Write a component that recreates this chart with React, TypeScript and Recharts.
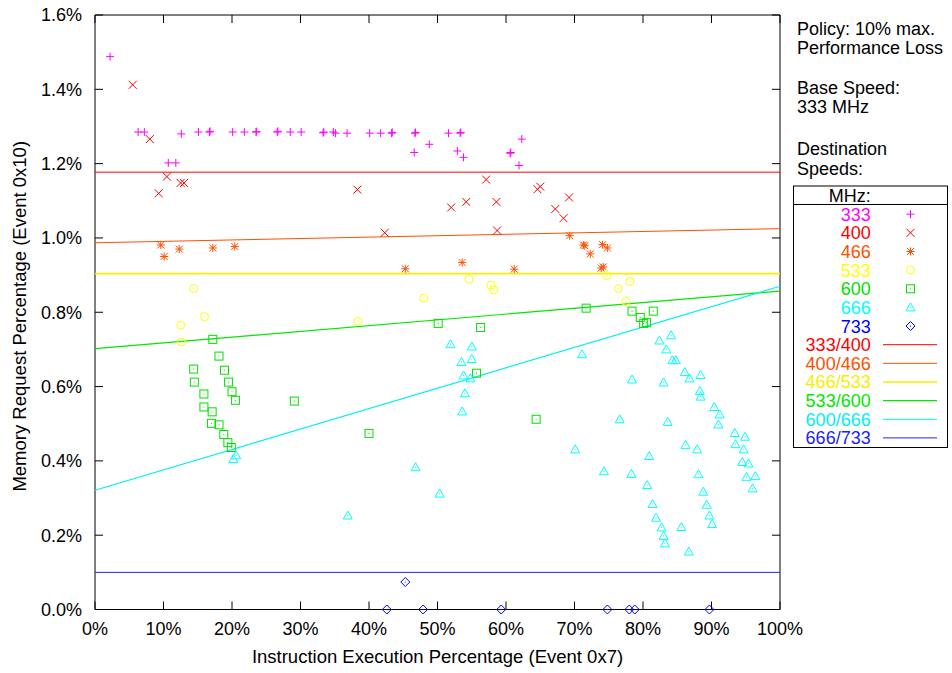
import React from 'react';
import { ScatterChart, Scatter, XAxis, YAxis, Customized } from 'recharts';

const FONT = '"Liberation Sans", Arial, Helvetica, sans-serif';

// ---- data (x = instruction execution %, y = memory request %) ----
const speeds333: number[][] = [
  [2.2, 1.488], [6.3, 1.285], [7.2, 1.285], [10.7, 1.202], [11.8, 1.202], [12.6, 1.28],
  [15.1, 1.285], [16.7, 1.285], [16.8, 1.287], [20.1, 1.285], [21.8, 1.285], [23.5, 1.285],
  [23.6, 1.286], [26.6, 1.285], [26.7, 1.287], [28.5, 1.285], [30.1, 1.285], [33.3, 1.283],
  [33.4, 1.285], [34.8, 1.285], [35.1, 1.282], [36.8, 1.282], [40.1, 1.282], [41.7, 1.282],
  [43.3, 1.282], [43.4, 1.284], [46.7, 1.282], [46.8, 1.284], [51.6, 1.282], [53.3, 1.282],
  [53.4, 1.284], [46.6, 1.23], [48.8, 1.252], [52.9, 1.234], [53.8, 1.217], [60.6, 1.228],
  [60.7, 1.23], [62.3, 1.266], [61.9, 1.195],
];
const speeds400: number[][] = [
  [5.5, 1.412], [8.0, 1.266], [9.3, 1.12], [10.5, 1.165], [12.5, 1.148], [13.0, 1.148],
  [38.3, 1.13], [42.3, 1.014], [52.0, 1.082], [54.2, 1.097], [57.1, 1.157], [58.6, 1.097],
  [58.7, 1.02], [64.6, 1.131], [65.0, 1.138], [67.2, 1.078], [68.4, 1.053], [69.2, 1.109],
];
const speeds466: number[][] = [
  [9.6, 0.981], [10.1, 0.95], [12.3, 0.97], [17.2, 0.973], [20.4, 0.977], [45.3, 0.917],
  [53.6, 0.934], [61.2, 0.916], [69.3, 1.006], [71.3, 0.981], [71.5, 0.979], [72.3, 0.957],
  [74.1, 0.982], [74.8, 0.973], [73.9, 0.919], [74.2, 0.922],
];
const speeds533: number[][] = [
  [12.5, 0.765], [12.6, 0.72], [14.4, 0.864], [16.0, 0.788], [38.4, 0.776], [48.0, 0.838],
  [54.6, 0.889], [57.8, 0.873], [58.2, 0.86], [74.7, 0.899], [76.4, 0.864], [77.5, 0.829],
  [78.1, 0.883],
];
const speeds600: number[][] = [
  [14.4, 0.647], [14.5, 0.612], [15.9, 0.58], [15.9, 0.545], [17.0, 0.501], [17.1, 0.532],
  [17.2, 0.727], [18.1, 0.682], [18.1, 0.497], [18.8, 0.471], [18.9, 0.644], [19.4, 0.449],
  [19.5, 0.612], [19.9, 0.436], [20.0, 0.586], [20.5, 0.563], [29.1, 0.561], [40.0, 0.474],
  [50.1, 0.77], [55.7, 0.636], [56.3, 0.759], [64.4, 0.512], [71.7, 0.811], [78.4, 0.803],
  [79.6, 0.786], [80.1, 0.77], [80.5, 0.772], [81.5, 0.803],
];
const speeds666: number[][] = [
  [20.2, 0.405], [20.6, 0.415], [36.9, 0.253], [46.8, 0.383], [50.3, 0.312], [51.9, 0.714],
  [53.5, 0.666], [53.6, 0.533], [53.8, 0.63], [54.0, 0.582], [54.8, 0.622], [55.0, 0.708],
  [55.0, 0.674], [70.1, 0.431], [71.1, 0.687], [74.3, 0.372], [76.6, 0.512], [78.3, 0.365],
  [78.4, 0.619], [80.6, 0.335], [80.9, 0.413], [81.4, 0.284], [81.9, 0.247], [82.4, 0.724],
  [82.7, 0.221], [83.0, 0.198], [83.0, 0.611], [83.2, 0.178], [83.4, 0.7], [83.6, 0.505],
  [84.1, 0.738], [84.3, 0.671], [84.8, 0.671], [85.6, 0.222], [86.1, 0.639], [86.2, 0.443],
  [86.8, 0.622], [86.7, 0.156], [87.9, 0.431], [88.1, 0.364], [88.3, 0.588], [88.4, 0.573],
  [88.4, 0.631], [88.8, 0.317], [89.3, 0.282], [89.7, 0.253], [90.1, 0.23], [90.4, 0.545],
  [91.0, 0.498], [91.2, 0.525], [93.4, 0.475], [93.5, 0.445], [94.5, 0.397], [94.7, 0.431],
  [94.9, 0.465], [95.1, 0.357], [95.4, 0.393], [96.0, 0.326], [96.4, 0.359],
];
const speeds733: number[][] = [
  [42.6, 0], [45.3, 0.074], [47.9, 0], [59.3, 0], [74.8, 0], [78.0, 0], [78.8, 0], [89.7, 0],
];

// boundary lines: [y at 0%, y at 100%]
const line333_400 = [1.177, 1.177];
const line400_466 = [0.987, 1.025];
const line466_533 = [0.904, 0.904];
const line533_600 = [0.702, 0.857];
const line600_666 = [0.321, 0.87];
const line666_733 = [0.1, 0.1];

const xTicks = [0, 10, 20, 30, 40, 50, 60, 70, 80, 90, 100];
const yTicks = [0, 0.2, 0.4, 0.6, 0.8, 1.0, 1.2, 1.4, 1.6];

const pointSeries = [
  { name: '333', kind: 'plus', color: '#ff00ff', data: speeds333 },
  { name: '400', kind: 'cross', color: '#ff0000', data: speeds400 },
  { name: '466', kind: 'star', color: '#ff5000', data: speeds466 },
  { name: '533', kind: 'circle', color: '#ffff00', data: speeds533 },
  { name: '600', kind: 'square', color: '#00e000', data: speeds600 },
  { name: '666', kind: 'triangle', color: '#00ffff', data: speeds666 },
  { name: '733', kind: 'diamond', color: '#0000ff', data: speeds733 },
];
const lineSeries = [
  { name: '333/400', color: '#ff0000', width: 1, ends: line333_400 },
  { name: '400/466', color: '#ff5000', width: 1, ends: line400_466 },
  { name: '466/533', color: '#f4f000', width: 1.6, ends: line466_533 },
  { name: '533/600', color: '#00e800', width: 1.2, ends: line533_600 },
  { name: '600/666', color: '#00f0f0', width: 1.2, ends: line600_666 },
  { name: '666/733', color: '#2020ff', width: 1, ends: line666_733 },
];
const noteLines = ['Policy: 10% max.', 'Performance Loss', '', 'Base Speed:', '333 MHz', '', 'Destination', 'Speeds:'];

const toXY = (arr: number[][]) => arr.map(([x, y]) => ({ x, y }));
const lineXY = (ends: number[]) => [{ x: 0, y: ends[0] }, { x: 100, y: ends[1] }];

function Marker({ kind, color, cx, cy }: { kind: string; color: string; cx: number; cy: number }) {
  const s = { stroke: color, strokeWidth: 1, fill: 'none' };
  const dot = <circle cx={cx} cy={cy} r={0.6} fill={color} />;
  switch (kind) {
    case 'plus':
      return (<g {...s}><line x1={cx - 4} x2={cx + 4} y1={cy} y2={cy} /><line x1={cx} x2={cx} y1={cy - 4} y2={cy + 4} /></g>);
    case 'cross':
      return (<g {...s}><line x1={cx - 4} x2={cx + 4} y1={cy - 4} y2={cy + 4} /><line x1={cx - 4} x2={cx + 4} y1={cy + 4} y2={cy - 4} /></g>);
    case 'star':
      return (<g {...s}>
        <line x1={cx - 4} x2={cx + 4} y1={cy} y2={cy} /><line x1={cx} x2={cx} y1={cy - 4} y2={cy + 4} />
        <line x1={cx - 3.5} x2={cx + 3.5} y1={cy - 3.5} y2={cy + 3.5} /><line x1={cx - 3.5} x2={cx + 3.5} y1={cy + 3.5} y2={cy - 3.5} />
      </g>);
    case 'circle':
      return (<g><circle cx={cx} cy={cy} r={4} {...s} />{dot}</g>);
    case 'square':
      return (<g><rect x={cx - 4} y={cy - 4} width={8} height={8} {...s} />{dot}</g>);
    case 'triangle':
      return (<g><polygon points={`${cx},${cy - 4.5} ${cx + 4.5},${cy + 3.5} ${cx - 4.5},${cy + 3.5}`} {...s} />{dot}</g>);
    case 'diamond':
      return (<g><polygon points={`${cx},${cy - 4.5} ${cx + 4.5},${cy} ${cx},${cy + 4.5} ${cx - 4.5},${cy}`} {...s} />{dot}</g>);
    default:
      return <g />;
  }
}

const makeShape = (kind: string, color: string) => (p: any) => {
  if (p == null || p.cx == null || p.cy == null) return <g />;
  return <Marker kind={kind} color={color} cx={p.cx} cy={p.cy} />;
};
const emptyShape = () => <g />;

function LegendLayer() {
  const left = 793.5, right = 947.5, top = 186, bottom = 447.5;
  const textRight = 870.7;
  const rowBase = 220.7, rowStep = 18.64;
  const rows = [
    ...pointSeries.map((s) => ({ name: s.name, color: s.color, kind: s.kind, isLine: false, width: 1 })),
    ...lineSeries.map((s) => ({ name: s.name, color: s.color, kind: '', isLine: true, width: s.width })),
  ];
  const noteBase = [35, 54.3, 0, 94, 113.3, 0, 155, 174.5];
  return (
    <g fontFamily={FONT} fontSize={18}>
      {noteLines.map((t, i) => (t ? <text key={'n' + i} x={797} y={noteBase[i]} fill="#000">{t}</text> : null))}
      <rect x={left} y={top} width={right - left} height={bottom - top} fill="#fff" stroke="#000" strokeWidth={1} />
      <line x1={left} x2={right} y1={204.5} y2={204.5} stroke="#000" strokeWidth={1} />
      <text x={textRight} y={202} textAnchor="end" fill="#000">MHz:</text>
      {rows.map((r, i) => {
        const base = rowBase + i * rowStep;
        const cy = base - 6.5;
        return (
          <g key={r.name}>
            <text x={textRight} y={base} textAnchor="end" fill={r.color}>{r.name}</text>
            {r.isLine
              ? <line x1={883} x2={937} y1={cy} y2={cy} stroke={r.color} strokeWidth={r.width} />
              : <Marker kind={r.kind} color={r.color} cx={910.5} cy={cy} />}
          </g>
        );
      })}
    </g>
  );
}

const XTitle = (props: any) => {
  const vb = props.viewBox || {};
  return (
    <text x={vb.x + vb.width / 2} y={vb.y + 53} textAnchor="middle" fontFamily={FONT} fontSize={18.5} fill="#000">
      Instruction Execution Percentage (Event 0x7)
    </text>
  );
};
const YTitle = (props: any) => {
  const vb = props.viewBox || {};
  const cx = vb.x + 14;
  const cy = vb.y + vb.height / 2 + 4;
  return (
    <text x={cx} y={cy} transform={`rotate(-90, ${cx}, ${cy})`} textAnchor="middle" dominantBaseline="central"
      fontFamily={FONT} fontSize={18.5} fill="#000">
      Memory Request Percentage (Event 0x10)
    </text>
  );
};

const tickStyle = { fill: '#000', fontSize: 18, fontFamily: FONT };
const axisStroke = { stroke: '#000', strokeWidth: 1 };

export default function App() {
  return (
    <div style={{ position: 'absolute', left: 0, top: 0, width: 952, height: 673, background: '#fff' }}>
      <ScatterChart width={952} height={673} margin={{ top: 10, right: 167, bottom: 8.5, left: 5 }} style={{ fontFamily: FONT }}>
        <XAxis xAxisId="bottom" type="number" dataKey="x" domain={[0, 100]} ticks={xTicks} interval={0}
          tickFormatter={(v: number) => `${v}%`} tickSize={-8} tickMargin={21} height={55}
          axisLine={axisStroke} tickLine={axisStroke} tick={tickStyle} label={{ content: XTitle }} />
        <XAxis xAxisId="top" orientation="top" type="number" dataKey="x" domain={[0, 100]} ticks={xTicks} interval={0}
          tickFormatter={() => ''} tickSize={-8} height={5} axisLine={axisStroke} tickLine={axisStroke} tick={tickStyle} />
        <YAxis yAxisId="left" type="number" dataKey="y" domain={[0, 1.6]} ticks={yTicks} interval={0}
          tickFormatter={(v: number) => `${v.toFixed(1)}%`} tickSize={-8} tickMargin={21} width={90}
          axisLine={axisStroke} tickLine={axisStroke} tick={tickStyle} label={{ content: YTitle }} />
        <YAxis yAxisId="right" orientation="right" type="number" dataKey="y" domain={[0, 1.6]} ticks={yTicks} interval={0}
          tickFormatter={() => ''} tickSize={-8} width={5} axisLine={axisStroke} tickLine={axisStroke} tick={tickStyle} />
        {lineSeries.map((s) => (
          <Scatter key={s.name} name={s.name} data={lineXY(s.ends)} xAxisId="top" yAxisId="right"
            line={{ stroke: s.color, strokeWidth: s.width }} shape={emptyShape} isAnimationActive={false} legendType="none" />
        ))}
        {pointSeries.map((s) => (
          <Scatter key={s.name} name={s.name} data={toXY(s.data)} xAxisId="bottom" yAxisId="left"
            shape={makeShape(s.kind, s.color)} isAnimationActive={false} />
        ))}
        <Customized component={LegendLayer} />
      </ScatterChart>
    </div>
  );
}
